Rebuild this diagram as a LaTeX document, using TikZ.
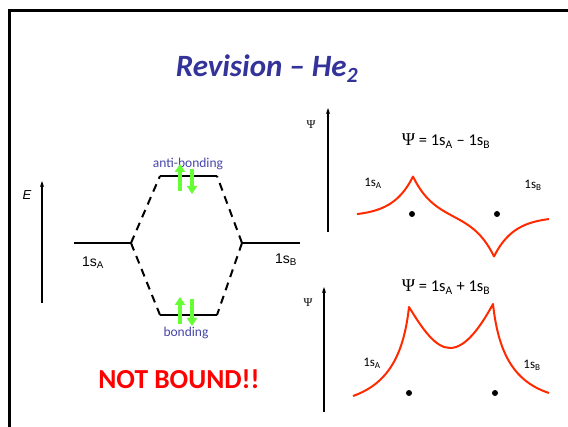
\documentclass[tikz,border=0pt]{standalone}
\usepackage{fontspec}
\setmainfont{Carlito}
\newfontfamily\arialfont{Liberation Sans}
\newfontfamily\psifont{Liberation Serif}
\usetikzlibrary{arrows.meta}
\definecolor{titleblue}{HTML}{333399}
\definecolor{labelblue}{HTML}{4646A8}
\definecolor{spingreen}{HTML}{66FF33}
\definecolor{wavered}{HTML}{FF2A00}
\definecolor{alarmred}{HTML}{FF0000}

\begin{document}
\begin{tikzpicture}[x=1pt, y=-1pt,
  level/.style={line width=2pt},
  link/.style={line width=2pt, dash pattern=on 8pt off 6pt},
  spin/.style={line width=3.5pt, spingreen, -{Triangle[width=10pt,length=8pt]}},
  wave/.style={line width=2pt, wavered, line join=round},
  axis/.style={line width=1.2pt, -{Stealth[length=6pt,width=4pt]}},
  atom/.style={circle, fill, inner sep=0pt, minimum size=6pt}]
  \useasboundingbox (0,0) rectangle (568,427);

  % frame
  \draw[line width=3pt] (9,427) -- (9,11) -- (568,11);

  % title
  \node[anchor=base, text=titleblue, font=\fontsize{31}{36}\selectfont\bfseries\itshape]
    (title) at (267,77) {Revision – He\textsubscript{2}};

  % energy axis
  \coordinate (e0) at (42,303);
  \coordinate (e1) at (42,181);
  \draw[axis] (e0) -- (e1);
  \node[font=\arialfont\itshape\fontsize{13}{15}\selectfont] (elab) at (27,195) {E};

  % atomic levels
  \coordinate (aL) at (74,243);  \coordinate (aR) at (131,243);
  \coordinate (bL) at (242,243); \coordinate (bR) at (300,243);
  \draw[level] (aL) -- (aR);
  \draw[level] (bL) -- (bR);
  \node[font=\arialfont\fontsize{14}{16}\selectfont] (sa) at (93,263) {1s\textsubscript{A}};
  \node[font=\arialfont\fontsize{14}{16}\selectfont] (sb) at (286,260) {1s\textsubscript{B}};

  % molecular levels
  \coordinate (abL) at (160,176); \coordinate (abR) at (217,176);
  \coordinate (bdL) at (160,315); \coordinate (bdR) at (217,315);
  \draw[level] (abL) -- (abR);
  \draw[level] (bdL) -- (bdR);
  \draw[link] (aR) -- (abL);
  \draw[link] (aR) -- (bdL);
  \draw[link] (bL) -- (abR);
  \draw[link] (bL) -- (bdR);
  \node[text=labelblue, font=\fontsize{13.5}{15}\selectfont] (ablab) at (188,164) {anti-bonding};
  \node[text=labelblue, font=\fontsize{13.5}{15}\selectfont] (bdlab) at (186,333) {bonding};

  % electrons
  \coordinate (u1) at (180,191); \coordinate (u2) at (180,164);
  \coordinate (d1) at (192,169); \coordinate (d2) at (192,194);
  \draw[spin] (u1) -- (u2);
  \draw[spin] (d1) -- (d2);
  \coordinate (u3) at (180,324); \coordinate (u4) at (180,297);
  \coordinate (d3) at (192,299); \coordinate (d4) at (192,326);
  \draw[spin] (u3) -- (u4);
  \draw[spin] (d3) -- (d4);

  \node[text=alarmred, font=\fontsize{27.5}{30}\selectfont\bfseries] (verdict) at (179,379) {NOT BOUND!!};

  % antibonding wavefunction
  \coordinate (p0) at (328,232);
  \coordinate (p1) at (328,108);
  \draw[axis] (p0) -- (p1);
  \node[font=\psifont\fontsize{12}{14}\selectfont] (psiup) at (311,125) {Ψ};
  \node[font=\fontsize{16.5}{18}\selectfont] (minus) at (446,141)
    {{\psifont\fontsize{18}{18}\selectfont Ψ} = 1s\textsubscript{A} – 1s\textsubscript{B}};
  \draw[wave] plot[domain=357:549, samples=193]
    (\x, {216.5 - 40.7*(exp(-abs(\x-413)/20) - exp(-abs(\x-494)/20))});
  \node[atom] (na1) at (412,214) {};
  \node[atom] (nb1) at (497,214) {};
  \node[font=\fontsize{13}{15}\selectfont] (sa1) at (373,183) {1s\textsubscript{A}};
  \node[font=\fontsize{13}{15}\selectfont] (sb1) at (533,185) {1s\textsubscript{B}};

  % bonding wavefunction
  \coordinate (q0) at (324,412);
  \coordinate (q1) at (324,287);
  \draw[axis] (q0) -- (q1);
  \node[font=\psifont\fontsize{12}{14}\selectfont] (psidn) at (308,303) {Ψ};
  \node[font=\fontsize{16.5}{18}\selectfont] (plus) at (446,287)
    {{\psifont\fontsize{18}{18}\selectfont Ψ} = 1s\textsubscript{A} + 1s\textsubscript{B}};
  \draw[wave] (353,396) .. controls (390,383) and (404,352) .. (409,307)
    .. controls (422,328) and (435,348) .. (450,348)
    .. controls (466,348) and (481,326) .. (493,304)
    .. controls (498,350) and (512,381) .. (549,393);
  \node[atom] (na2) at (409,393) {};
  \node[atom] (nb2) at (495,393) {};
  \node[font=\fontsize{13}{15}\selectfont] (sa2) at (372,363) {1s\textsubscript{A}};
  \node[font=\fontsize{13}{15}\selectfont] (sb2) at (532,365) {1s\textsubscript{B}};
\end{tikzpicture}
\end{document}
